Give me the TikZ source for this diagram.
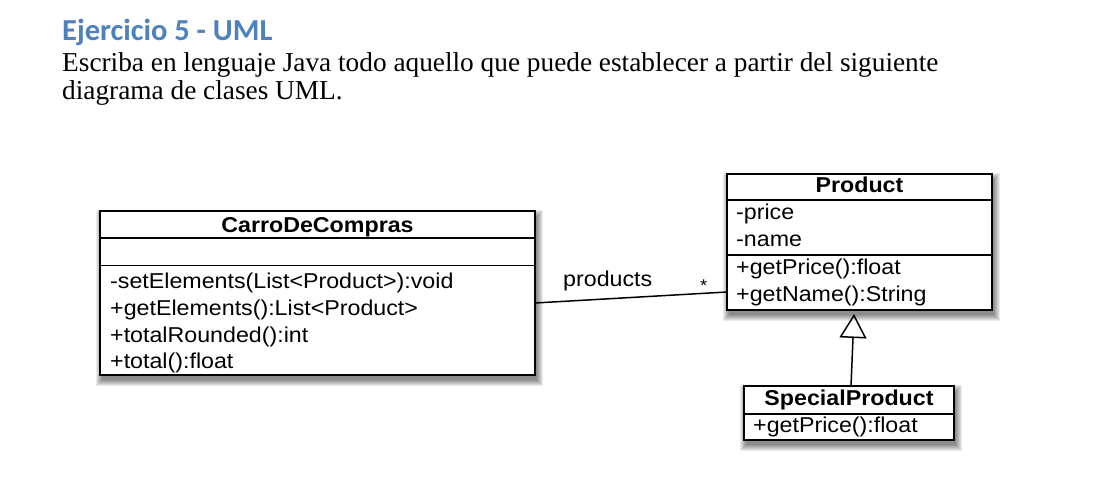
\documentclass[tikz,border=0pt]{standalone}
\usepackage{fontspec}
\setmainfont{Liberation Serif}
\newfontfamily\titlefont{Carlito}
\newfontfamily\umlfont[FakeStretch=1.08]{Liberation Sans}
\usetikzlibrary{arrows.meta,calc}
\definecolor{titleblue}{RGB}{79,129,189}
\pgfdeclarelayer{bg}
\pgfsetlayers{bg,main}
\tikzset{
  classbox/.style={draw, line width=1.9pt, fill=white, inner sep=0pt, outer sep=0pt, anchor=north west},
  divider/.style={line width=1.5pt},
  umltext/.style={inner sep=0pt, anchor=base west, font=\umlfont\fontsize{21.5}{24}\selectfont},
  umlhead/.style={inner sep=0pt, anchor=base, font=\umlfont\bfseries\fontsize{21.5}{24}\selectfont},
  bodytext/.style={inner sep=0pt, anchor=base west, font=\fontsize{27.3}{28}\selectfont},
  titletext/.style={inner sep=0pt, anchor=base west, text=titleblue, font=\titlefont\bfseries\fontsize{30.5}{31}\selectfont},
  assoc/.style={line width=1.5pt},
  generalization/.style={line width=1.5pt, -{Triangle[open, length=24pt, width=27pt, line width=1.5pt]}},
}
\newcommand\boxshadow[1]{%
  \foreach \d in {0,...,6}{%
    \fill[black, opacity=0.08] ($(#1.north west)+(2-\d,5-\d)$) rectangle ($(#1.south east)+(2+\d,5+\d)$);
  }%
}
\begin{document}
\begin{tikzpicture}[x=1pt, y=-1pt]
\useasboundingbox (0,0) rectangle (1109,494);

% heading and text
\node[titletext] (title) at (62,41) {Ejercicio 5 - UML};
\node[bodytext] (line1) at (62,72) {Escriba en lenguaje Java todo aquello que puede establecer a partir del siguiente};
\node[bodytext] (line2) at (62,100) {diagrama de clases UML.};

% class boxes
\node[classbox, minimum width=435pt, minimum height=164pt] (carro) at (100,211) {};
\node[classbox, minimum width=265pt, minimum height=136pt] (product) at (727,174) {};
\node[classbox, minimum width=210pt, minimum height=54pt] (special) at (744,386) {};

\begin{pgfonlayer}{bg}
  \fill[white] (0,0) rectangle (1109,494);
  \boxshadow{carro}
  \boxshadow{product}
  \boxshadow{special}
\end{pgfonlayer}

% CarroDeCompras
\draw[divider] ($(carro.north west)+(0,27)$) -- ($(carro.north east)+(0,27)$);
\draw[divider] ($(carro.north west)+(0,54.5)$) -- ($(carro.north east)+(0,54.5)$);
\node[umlhead] (carroname) at (317.5,233) {CarroDeCompras};
\node[umltext] (c1) at (110,289) {-setElements(List<Product>):void};
\node[umltext] (c2) at (110,316) {+getElements():List<Product>};
\node[umltext] (c3) at (110,343) {+totalRounded():int};
\node[umltext] (c4) at (110,369) {+total():float};

% Product
\draw[divider] ($(product.north west)+(0,26)$) -- ($(product.north east)+(0,26)$);
\draw[divider] ($(product.north west)+(0,81)$) -- ($(product.north east)+(0,81)$);
\node[umlhead] (productname) at (859.5,193) {Product};
\node[umltext] (p1) at (736,220) {-price};
\node[umltext] (p2) at (736,247) {-name};
\node[umltext] (p3) at (736,275) {+getPrice():float};
\node[umltext] (p4) at (736,302) {+getName():String};

% SpecialProduct
\draw[divider] ($(special.north west)+(0,28)$) -- ($(special.north east)+(0,28)$);
\node[umlhead] (specialname) at (849,406) {SpecialProduct};
\node[umltext] (s1) at (753,432) {+getPrice():float};

% association
\draw[assoc] ($(carro.east)+(0,10)$) -- ($(product.west)+(0,50)$);
\node[umltext] (role) at (563,287) {products};
\node[umltext, font=\umlfont\fontsize{17}{20}\selectfont] (mult) at (700,292) {*};

% generalization
\draw[generalization] ($(special.north)+(2,0)$) -- ($(product.south)+(-5.5,4)$);
\end{tikzpicture}
\end{document}
